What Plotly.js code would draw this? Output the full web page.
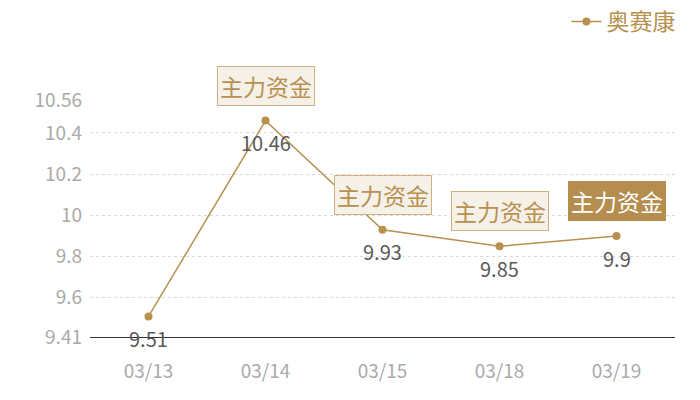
<!DOCTYPE html>
<html><head><meta charset="utf-8">
<script src="https://cdn.plot.ly/plotly-3.0.1.min.js"></script>
<style>html,body{margin:0;padding:0;background:#fff}#c{width:700px;height:400px}</style>
</head><body><div id="c"></div>
<script>
var dates = ['03/13','03/14','03/15','03/18','03/19'];
var prices = [9.51, 10.46, 9.93, 9.85, 9.9];
var flagged = [false, true, true, true, true];
var highlighted = [false, false, false, false, true];
var seriesName = '奥赛康';
var flagText = '主力资金';
var yTicks = [9.41, 9.6, 9.8, 10, 10.2, 10.4, 10.56];
var yTickText = ['9.41', '9.6', '9.8', '10', '10.2', '10.4', '10.56'];

var gold = '#b8914f';
var font = '"Noto Sans CJK SC", "Noto Sans", sans-serif';

var trace = {
  x: dates, y: prices, type: 'scatter', mode: 'lines+markers',
  name: seriesName,
  line: {color: gold, width: 1.5},
  marker: {color: gold, size: 8},
  cliponaxis: false
};

var annotations = [];
for (var i = 0; i < dates.length; i++) {
  annotations.push({
    x: dates[i], y: prices[i], xref: 'x', yref: 'y',
    text: String(prices[i]), showarrow: false, yshift: -22,
    font: {family: font, size: 20, color: '#5a5a5a'}
  });
  if (!flagged[i]) continue;
  var hl = highlighted[i];
  annotations.push({
    x: dates[i], y: prices[i], xref: 'x', yref: 'y',
    text: flagText, showarrow: false, yshift: 35,
    font: {family: font, size: 23, color: hl ? '#ffffff' : '#b8914f'},
    bgcolor: hl ? '#b58d4f' : '#f5f0e8',
    bordercolor: hl ? '#b58d4f' : '#cfb17f',
    borderwidth: 1, borderpad: 2
  });
}

var layout = {
  width: 700, height: 400,
  margin: {l: 90, r: 25, t: 100, b: 63},
  paper_bgcolor: '#ffffff', plot_bgcolor: '#ffffff',
  font: {family: font},
  showlegend: true,
  legend: {xref: 'container', yref: 'container', x: 0.972, xanchor: 'right', y: 1.0, yanchor: 'top',
           orientation: 'h', font: {family: font, size: 23, color: gold}, itemwidth: 30},
  xaxis: {type: 'category', range: [-0.5, 4.5], showgrid: false, zeroline: false,
          showline: true, linecolor: '#333333', linewidth: 1,
          ticks: '', tickfont: {family: font, size: 19, color: '#aaaaaa'}, ticklabelstandoff: 17},
  yaxis: {range: [9.41, 10.56], tickmode: 'array', tickvals: yTicks, ticktext: yTickText,
          showgrid: true, gridcolor: '#d8d8d8', griddash: 'dot', zeroline: false,
          showline: false, ticks: '', tickfont: {family: font, size: 19, color: '#aaaaaa'},
          ticklabelstandoff: 7},
  annotations: annotations
};

Plotly.newPlot('c', [trace], layout, {displayModeBar: false, staticPlot: true});
</script></body></html>
